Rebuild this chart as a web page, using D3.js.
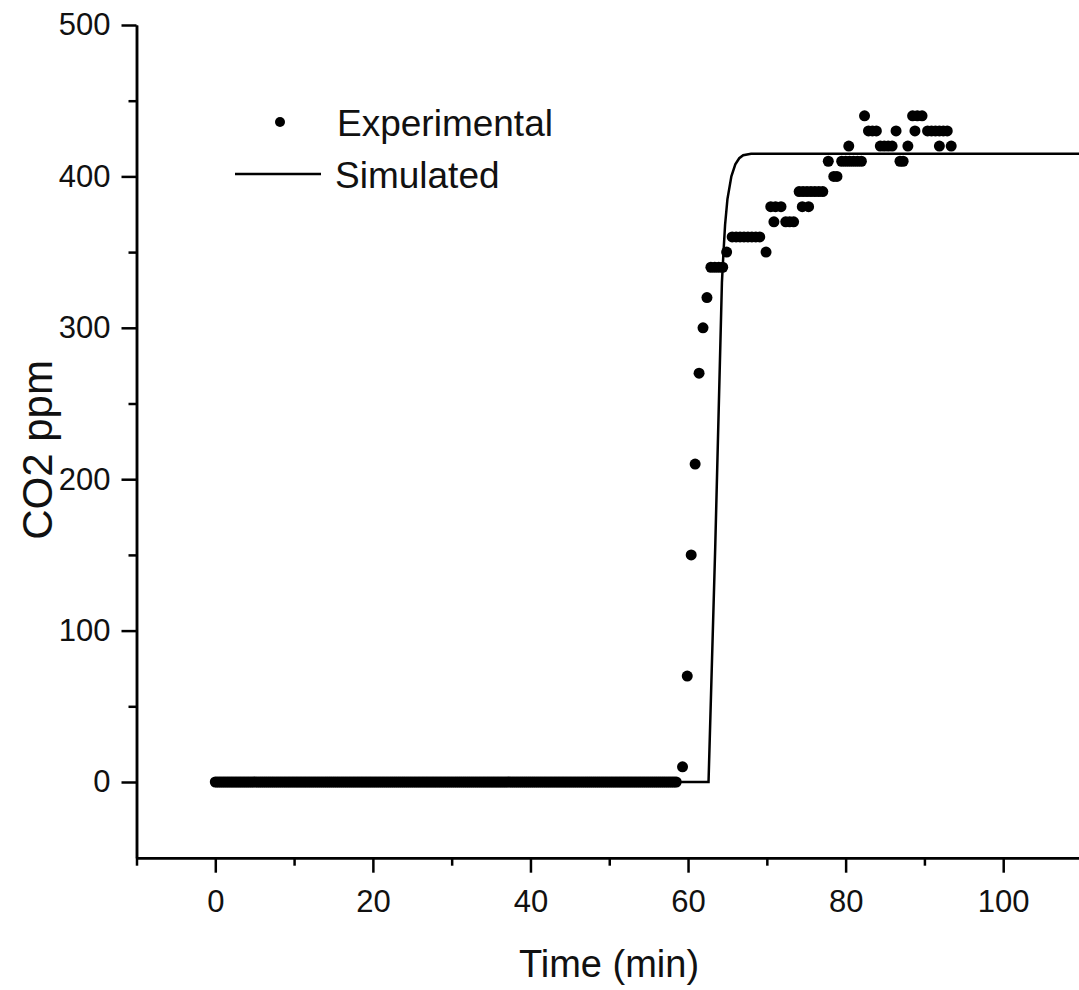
<!DOCTYPE html>
<html>
<head>
<meta charset="utf-8">
<script src="https://cdn.jsdelivr.net/npm/d3@7/dist/d3.min.js"></script>
<style>
  body { margin: 0; background: #fff; }
  svg { display: block; font-family: "Liberation Sans", Arial, sans-serif; }
</style>
</head>
<body>
<div id="chart"></div>
<script>
const width = 1079;
const height = 990;

// experimental: flat zero reading before breakthrough (min)
const baseTimes = [
  0, 0.25, 0.5, 0.75, 1, 1.25, 1.5, 1.75, 2, 2.25, 2.5, 2.75, 3, 3.25, 3.5, 3.75, 4, 4.25, 4.5, 4.75,
  5, 5.25, 5.5, 5.75, 6, 6.25, 6.5, 6.75, 7, 7.25, 7.5, 7.75, 8, 8.25, 8.5, 8.75, 9, 9.25, 9.5, 9.75,
  10, 10.25, 10.5, 10.75, 11, 11.25, 11.5, 11.75, 12, 12.25, 12.5, 12.75, 13, 13.25, 13.5, 13.75, 14, 14.25, 14.5, 14.75,
  15, 15.25, 15.5, 15.75, 16, 16.25, 16.5, 16.75, 17, 17.25, 17.5, 17.75, 18, 18.25, 18.5, 18.75, 19, 19.25, 19.5, 19.75,
  20, 20.25, 20.5, 20.75, 21, 21.25, 21.5, 21.75, 22, 22.25, 22.5, 22.75, 23, 23.25, 23.5, 23.75, 24, 24.25, 24.5, 24.75,
  25, 25.25, 25.5, 25.75, 26, 26.25, 26.5, 26.75, 27, 27.25, 27.5, 27.75, 28, 28.25, 28.5, 28.75, 29, 29.25, 29.5, 29.75,
  30, 30.25, 30.5, 30.75, 31, 31.25, 31.5, 31.75, 32, 32.25, 32.5, 32.75, 33, 33.25, 33.5, 33.75, 34, 34.25, 34.5, 34.75,
  35, 35.25, 35.5, 35.75, 36, 36.25, 36.5, 36.75, 37, 37.25, 37.5, 37.75, 38, 38.25, 38.5, 38.75, 39, 39.25, 39.5, 39.75,
  40, 40.25, 40.5, 40.75, 41, 41.25, 41.5, 41.75, 42, 42.25, 42.5, 42.75, 43, 43.25, 43.5, 43.75, 44, 44.25, 44.5, 44.75,
  45, 45.25, 45.5, 45.75, 46, 46.25, 46.5, 46.75, 47, 47.25, 47.5, 47.75, 48, 48.25, 48.5, 48.75, 49, 49.25, 49.5, 49.75,
  50, 50.25, 50.5, 50.75, 51, 51.25, 51.5, 51.75, 52, 52.25, 52.5, 52.75, 53, 53.25, 53.5, 53.75, 54, 54.25, 54.5, 54.75,
  55, 55.25, 55.5, 55.75, 56, 56.25, 56.5, 56.75, 57, 57.25, 57.5, 57.75, 58, 58.25, 58.5]
const baseCO2 = 0

// experimental: breakthrough and plateau
const expTime = [59.3, 59.9, 60.4, 60.9, 61.4, 61.9, 62.4,
  62.9, 63.4, 63.9, 64.4,
  64.9, 69.9,
  65.6, 66.1, 66.6, 67.1, 67.6, 68.1, 68.6, 69.1,
  70.9, 72.4, 72.9, 73.4,
  70.5, 71.1, 71.8, 74.5, 75.3,
  74.1, 74.6, 75.1, 75.6, 76.1, 76.6, 77.1,
  78.5, 78.9,
  77.8, 79.5, 80.0, 80.5, 81.0, 81.5, 82.0, 86.9, 87.3,
  80.4, 84.4, 84.9, 85.4, 85.9, 87.9, 91.9, 93.4,
  82.9, 83.4, 83.9, 86.4, 88.8, 90.4, 90.9, 91.4, 91.9, 92.4, 92.9,
  82.4, 88.5, 89.1, 89.7]
const expCO2 = [10, 70, 150, 210, 270, 300, 320,
  340, 340, 340, 340,
  350, 350,
  360, 360, 360, 360, 360, 360, 360, 360,
  370, 370, 370, 370,
  380, 380, 380, 380, 380,
  390, 390, 390, 390, 390, 390, 390,
  400, 400,
  410, 410, 410, 410, 410, 410, 410, 410, 410,
  420, 420, 420, 420, 420, 420, 420, 420,
  430, 430, 430, 430, 430, 430, 430, 430, 430, 430, 430,
  440, 440, 440, 440]

// simulated curve
const simTime = [0, 62.6, 63.45, 64.3, 64.5, 64.7, 65.0, 65.5, 66.0, 66.5, 67.0, 68.0, 110]
const simCO2 = [0, 0, 155, 330, 350, 368, 385, 400, 408, 412, 414, 415, 415]

const xMajor = [0, 20, 40, 60, 80, 100]
const xMinor = [-10, 10, 30, 50, 70, 90, 110]
const yMajor = [0, 100, 200, 300, 400, 500]
const yMinor = [50, 150, 250, 350, 450]

const svg = d3.select('#chart')
    .append('svg')
    .attr('width', width)
    .attr('height', height)

const x = d3.scaleLinear().domain([-10, 110]).range([136.5, 1082])
const y = d3.scaleLinear().domain([-50, 500]).range([857.7, 25])

svg.append('clipPath').attr('id', 'plot')
    .append('rect')
    .attr('x', x(-10)).attr('y', y(500) - 10)
    .attr('width', x(110) - x(-10)).attr('height', y(-50) - y(500) + 10)

const expPoints = baseTimes.map(t => [t, baseCO2])
    .concat(expTime.map((t, i) => [t, expCO2[i]]))

const simPoints = simTime.map((t, i) => [t, simCO2[i]])

const plot = svg.append('g').attr('clip-path', 'url(#plot)')

plot.append('path')
    .datum(simPoints)
    .attr('fill', 'none')
    .attr('stroke', '#000')
    .attr('stroke-width', 2.5)
    .attr('d', d3.line().x(d => x(d[0])).y(d => y(d[1])))

plot.selectAll('.exp')
    .data(expPoints)
    .enter()
    .append('circle')
    .attr('class', 'exp')
    .attr('r', 5.5)
    .attr('cx', d => x(d[0]))
    .attr('cy', d => y(d[1]))
    .attr('fill', '#000')

// axes
function styleAxis(g) {
    g.select('.domain').attr('stroke', '#000').attr('stroke-width', 2.5)
    g.selectAll('.tick line').attr('stroke', '#000').attr('stroke-width', 2.5)
    g.selectAll('.tick text').attr('fill', '#111').attr('font-size', 31)
        .attr('font-family', '"Liberation Sans", Arial, sans-serif')
}

svg.append('g')
    .attr('transform', `translate(0,${y(-50)})`)
    .call(d3.axisBottom(x).tickValues(xMajor).tickSize(15).tickPadding(17).tickSizeOuter(0))
    .call(styleAxis)

svg.append('g')
    .attr('transform', `translate(0,${y(-50)})`)
    .call(d3.axisBottom(x).tickValues(xMinor).tickSize(8).tickFormat('').tickSizeOuter(0))
    .call(styleAxis)

svg.append('g')
    .attr('transform', `translate(${x(-10)},0)`)
    .call(d3.axisLeft(y).tickValues(yMajor).tickSize(15).tickPadding(11).tickSizeOuter(0))
    .call(styleAxis)

svg.append('g')
    .attr('transform', `translate(${x(-10)},0)`)
    .call(d3.axisLeft(y).tickValues(yMinor).tickSize(8).tickFormat('').tickSizeOuter(0))
    .call(styleAxis)

// axis titles
svg.append('text')
    .attr('x', 609)
    .attr('y', 977)
    .attr('text-anchor', 'middle')
    .attr('font-size', 38)
    .attr('fill', '#111')
    .text('Time (min)')

svg.append('text')
    .attr('transform', 'translate(52,450) rotate(-90)')
    .attr('text-anchor', 'middle')
    .attr('font-size', 42)
    .attr('fill', '#111')
    .text('CO2 ppm')

// legend
const legend = svg.append('g')

legend.append('circle')
    .attr('cx', 280).attr('cy', 122).attr('r', 5).attr('fill', '#000')
legend.append('text')
    .attr('x', 337).attr('y', 136)
    .attr('font-size', 37).attr('fill', '#111')
    .text('Experimental')

legend.append('line')
    .attr('x1', 235).attr('x2', 321)
    .attr('y1', 174).attr('y2', 174)
    .attr('stroke', '#000').attr('stroke-width', 2.5)
legend.append('text')
    .attr('x', 335).attr('y', 188)
    .attr('font-size', 37).attr('fill', '#111')
    .text('Simulated')
</script>
</body>
</html>
